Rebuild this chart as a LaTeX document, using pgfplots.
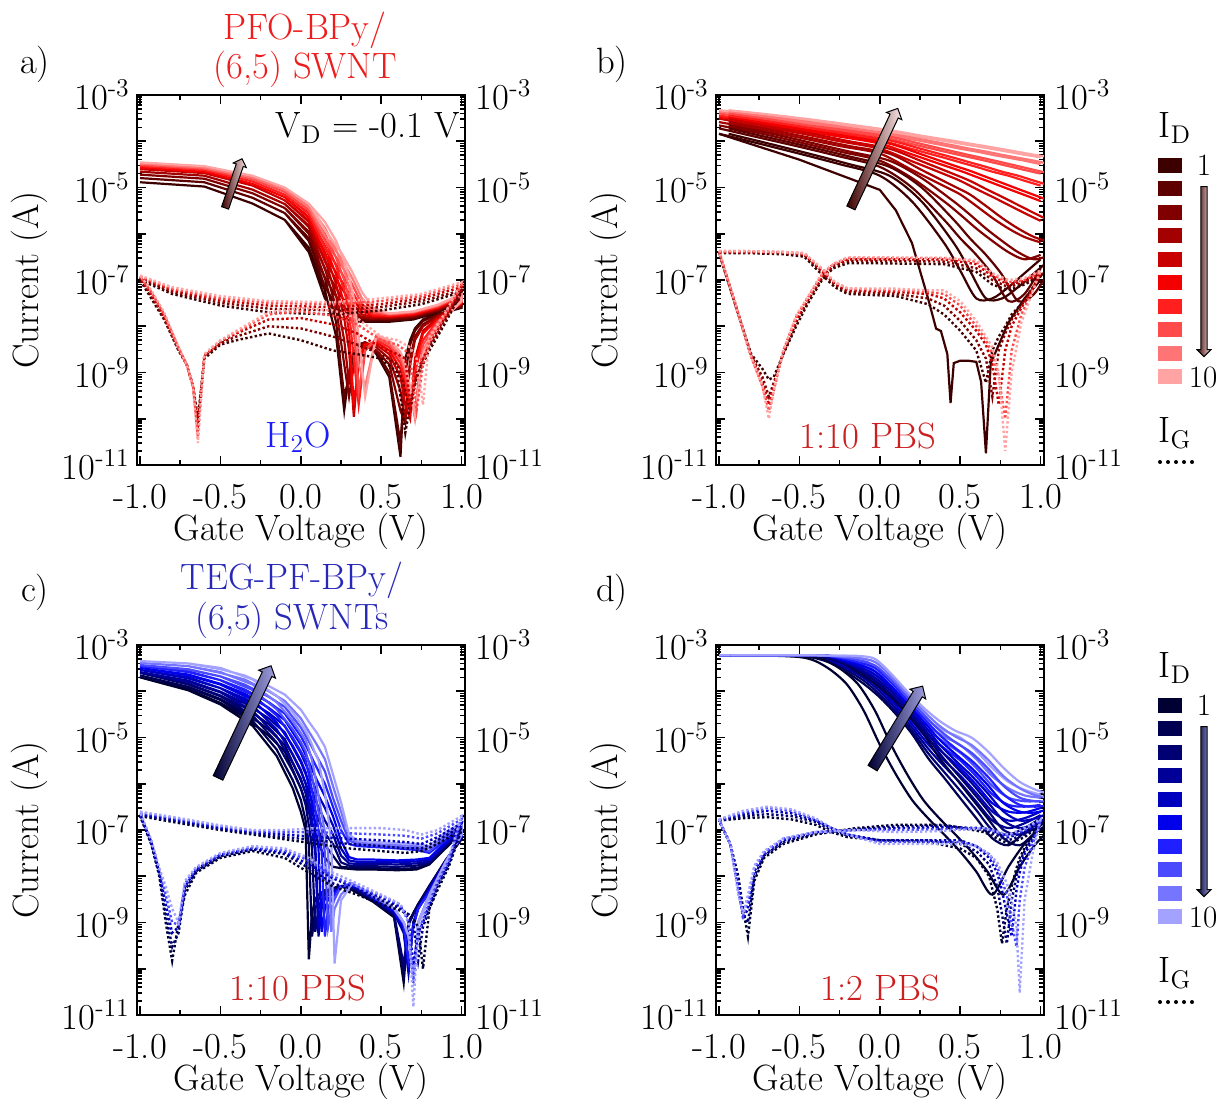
\documentclass[border=0pt]{standalone}
\usepackage{fontspec}
\usepackage{pgfplots}
\pgfplotsset{compat=1.18}
\usepackage{pgfplotstable}
\usetikzlibrary{shapes.arrows}

\definecolor{r1}{HTML}{3D0000}\definecolor{r2}{HTML}{5E0000}\definecolor{r3}{HTML}{800000}
\definecolor{r4}{HTML}{A30000}\definecolor{r5}{HTML}{C90000}\definecolor{r6}{HTML}{F50000}
\definecolor{r7}{HTML}{FF1F1F}\definecolor{r8}{HTML}{FF4A4A}\definecolor{r9}{HTML}{FF7575}
\definecolor{r10}{HTML}{FFA3A3}
\definecolor{b1}{HTML}{000033}\definecolor{b2}{HTML}{000052}\definecolor{b3}{HTML}{000073}
\definecolor{b4}{HTML}{000099}\definecolor{b5}{HTML}{0000BF}\definecolor{b6}{HTML}{0000EB}
\definecolor{b7}{HTML}{1F1FFF}\definecolor{b8}{HTML}{4A4AFF}\definecolor{b9}{HTML}{7575FF}
\definecolor{b10}{HTML}{A3A3FF}
\colorlet{rg1}{r1}\colorlet{rg2}{r3}\colorlet{rg3}{r5}\colorlet{rg4}{r8}\colorlet{rg5}{r10}
\colorlet{bg1}{b1}\colorlet{bg2}{b3}\colorlet{bg3}{b5}\colorlet{bg4}{b8}\colorlet{bg5}{b10}
\definecolor{pinkend}{HTML}{FAE6E6}
\definecolor{blueend}{HTML}{A0A0E0}
\definecolor{titlered}{HTML}{EE1C1C}
\definecolor{pbsred}{HTML}{CC1F1F}
\definecolor{htwoo}{HTML}{1A1AFF}
\definecolor{titleblue}{HTML}{2828B8}

\pgfplotstableread{
V c1 c2 c3 c4 c5 c6 c7 c8 c9 c10
-1.0 1.3e-5 1.6e-5 1.9e-5 2.2e-5 2.5e-5 2.7e-5 2.9e-5 3.1e-5 3.3e-5 3.5e-5
-0.6 1.05e-5 1.3e-5 1.55e-5 1.8e-5 2.05e-5 2.2e-5 2.4e-5 2.55e-5 2.7e-5 2.9e-5
-0.3 4.5e-6 6e-6 7.5e-6 9e-6 1.1e-5 1.2e-5 1.35e-5 1.5e-5 1.65e-5 1.8e-5
-0.1 2e-6 2.8e-6 3.6e-6 4.4e-6 5.3e-6 6.2e-6 7e-6 8e-6 9e-6 1e-5
0.05 5e-7 8e-7 1.1e-6 1.5e-6 1.9e-6 2.3e-6 2.8e-6 3.3e-6 3.9e-6 4.5e-6
0.15 6e-8 1.1e-7 1.8e-7 2.8e-7 4e-7 5.5e-7 7.5e-7 1e-6 1.35e-6 1.8e-6
0.22 6e-9 1.2e-8 2.5e-8 4.5e-8 8e-8 1.3e-7 2e-7 3e-7 4.5e-7 7e-7
0.27 1.5e-10 3e-10 1.5e-9 5e-9 1.5e-8 3e-8 6e-8 1e-7 1.6e-7 2.5e-7
0.30 1e-9 8e-10 3e-10 6e-10 3e-9 8e-9 2e-8 4e-8 7e-8 1.2e-7
0.33 3e-9 2.5e-9 1.5e-9 1.2e-9 1.1e-10 2e-10 2e-9 8e-9 2e-8 4e-8
0.36 4e-9 4e-9 3e-9 3e-9 2e-9 1.5e-9 2e-10 4e-10 1.5e-9 6e-9
0.40 4.5e-9 4.5e-9 4e-9 4.5e-9 4e-9 4e-9 3e-9 3e-9 5e-10 3e-10
0.47 2.5e-9 2.8e-9 3e-9 3.5e-9 4e-9 4.5e-9 5e-9 5.5e-9 6e-9 6.5e-9
0.55 8e-10 1e-9 1.5e-9 2e-9 2.5e-9 3e-9 3.5e-9 4e-9 4.5e-9 5e-9
0.62 1.5e-11 3e-11 1.5e-10 4e-10 8e-10 1.2e-9 1.6e-9 2e-9 2.4e-9 2.8e-9
0.65 2e-9 1e-9 8e-11 1e-10 2e-10 4e-10 7e-10 1e-9 1.2e-9 1.5e-9
0.68 5e-9 4e-9 2e-9 1.5e-9 1e-10 1.5e-10 2e-10 3e-10 4e-10 5e-10
0.71 9e-9 8e-9 6e-9 5e-9 2e-9 1.5e-9 1e-9 1.5e-10 1e-10 1.2e-10
0.76 1.4e-8 1.3e-8 1.1e-8 1e-8 8e-9 7e-9 5e-9 4e-9 3e-9 2.5e-9
0.85 1.8e-8 1.8e-8 1.7e-8 1.6e-8 1.5e-8 1.4e-8 1.3e-8 1.2e-8 1.1e-8 1e-8
1.0 2.5e-8 2.7e-8 2.8e-8 3e-8 3.1e-8 3.2e-8 3.3e-8 3.4e-8 3.5e-8 3.6e-8
1.0 3.5e-8 3.7e-8 3.9e-8 4.1e-8 4.3e-8 4.5e-8 4.6e-8 4.7e-8 4.8e-8 5e-8
0.85 2e-8 2.1e-8 2.2e-8 2.3e-8 2.4e-8 2.5e-8 2.6e-8 2.7e-8 2.8e-8 2.9e-8
0.7 1.4e-8 1.5e-8 1.6e-8 1.7e-8 1.75e-8 1.8e-8 1.9e-8 2e-8 2.05e-8 2.1e-8
0.55 1.25e-8 1.35e-8 1.45e-8 1.5e-8 1.6e-8 1.65e-8 1.7e-8 1.8e-8 1.85e-8 1.9e-8
0.45 1.25e-8 1.35e-8 1.45e-8 1.5e-8 1.6e-8 1.7e-8 1.8e-8 2e-8 2.2e-8 2.5e-8
0.38 1.25e-8 1.35e-8 1.5e-8 1.6e-8 1.8e-8 2.1e-8 2.5e-8 3e-8 4e-8 5.5e-8
0.32 1.3e-8 1.5e-8 1.8e-8 2.2e-8 3e-8 4e-8 5.5e-8 8e-8 1.1e-7 1.5e-7
0.25 1.5e-8 2e-8 3e-8 4.5e-8 7e-8 1e-7 1.5e-7 2.2e-7 3e-7 4e-7
0.15 4e-8 7e-8 1.1e-7 1.7e-7 2.5e-7 3.5e-7 5e-7 7e-7 9e-7 1.2e-6
0.05 4e-7 7e-7 1e-6 1.4e-6 1.8e-6 2.2e-6 2.7e-6 3.2e-6 3.8e-6 4.5e-6
-0.1 2e-6 2.8e-6 3.6e-6 4.4e-6 5.3e-6 6.2e-6 7e-6 8e-6 9e-6 1e-5
-0.3 4.5e-6 6e-6 7.5e-6 9e-6 1.1e-5 1.2e-5 1.35e-5 1.5e-5 1.65e-5 1.8e-5
-0.6 1.05e-5 1.3e-5 1.55e-5 1.8e-5 2.05e-5 2.2e-5 2.4e-5 2.55e-5 2.7e-5 2.9e-5
-1.0 1.3e-5 1.6e-5 1.9e-5 2.2e-5 2.5e-5 2.7e-5 2.9e-5 3.1e-5 3.3e-5 3.5e-5
}\tabAD

\pgfplotstableread{
V g1 g2 g3 g4 g5
-1.0 1e-7 1.1e-7 1.15e-7 1.2e-7 1.25e-7
-0.8 5e-8 5.5e-8 6e-8 6.5e-8 7e-8
-0.5 2.8e-8 3.2e-8 3.6e-8 4e-8 4.5e-8
-0.2 2e-8 2.4e-8 2.8e-8 3.2e-8 3.5e-8
0.2 1.8e-8 2.2e-8 2.6e-8 3e-8 3.3e-8
0.5 2.2e-8 2.6e-8 3e-8 3.5e-8 4e-8
0.75 3e-8 3.5e-8 4e-8 4.5e-8 5e-8
1.0 5.5e-8 6e-8 7e-8 8e-8 9e-8
0.9 1.2e-8 1.4e-8 1.6e-8 1.8e-8 2e-8
0.8 3e-9 3.5e-9 4e-9 5e-9 6e-9
0.76 1.5e-9 1.8e-9 2e-9 1.5e-9 2e-10
0.72 8e-10 8e-10 1e-9 1.5e-10 2e-9
0.68 2e-10 1.5e-10 2e-10 2e-9 3.5e-9
0.65 5e-11 4e-10 2e-9 3e-9 4e-9
0.6 1e-9 1.5e-9 2.5e-9 4e-9 5e-9
0.5 2e-9 2.5e-9 3.5e-9 5e-9 6e-9
0.35 2.5e-9 4e-9 7e-9 1.1e-8 1.5e-8
0.2 3e-9 6e-9 1.1e-8 1.7e-8 2.2e-8
0.0 5e-9 9e-9 1.5e-8 2.1e-8 2.5e-8
-0.2 7e-9 1e-8 1.4e-8 1.8e-8 2e-8
-0.4 5e-9 6e-9 7e-9 7.5e-9 8e-9
-0.5 4e-9 4.3e-9 4.6e-9 4.8e-9 5e-9
-0.6 2e-9 2.2e-9 2.3e-9 2.4e-9 2.5e-9
-0.64 1e-10 8e-11 6e-11 4e-11 3e-11
-0.67 5e-10 5e-10 5e-10 5e-10 5e-10
-0.71 1.5e-9 1.5e-9 1.5e-9 1.5e-9 1.5e-9
-0.76 3e-9 3e-9 3.2e-9 3.4e-9 3.5e-9
-0.85 1.4e-8 1.5e-8 1.6e-8 1.8e-8 2e-8
-0.93 4e-8 4.5e-8 5e-8 5.5e-8 6e-8
-1.0 1e-7 1.1e-7 1.15e-7 1.2e-7 1.25e-7
}\tabAG

\pgfplotstableread{
V V2 c1 c2 c3 c4 c5 c6 c7 c8 c9 c10
-1.0 -0.94 1.45e-4 1.9e-4 2.2e-4 2.6e-4 3.1e-4 3.4e-4 3.6e-4 4e-4 4.4e-4 4.7e-4
-0.75 -0.69 8.9e-5 1.2e-4 1.5e-4 1.8e-4 2.1e-4 2.4e-4 2.7e-4 3e-4 3.4e-4 3.8e-4
-0.5 -0.44 5.4e-5 7.6e-5 9.5e-5 1.2e-4 1.5e-4 1.74e-4 1.95e-4 2.2e-4 2.6e-4 3e-4
-0.25 -0.19 3.2e-5 4.7e-5 6e-5 7.9e-5 1e-4 1.26e-4 1.45e-4 1.7e-4 1.95e-4 2.3e-4
0.0 0.06 1.8e-5 2.8e-5 3.8e-5 5.4e-5 6.9e-5 8.9e-5 1.05e-4 1.26e-4 1.45e-4 1.74e-4
0.2 0.26 5e-6 1e-5 1.6e-5 2.4e-5 3.7e-5 5.2e-5 6.8e-5 8.7e-5 1.1e-4 1.32e-4
0.4 0.46 6.3e-7 2e-6 5e-6 1.07e-5 1.95e-5 3e-5 4.4e-5 6e-5 8.1e-5 1.02e-4
0.5 0.56 1.6e-7 8e-7 2.6e-6 7.1e-6 1.4e-5 2.3e-5 3.5e-5 5e-5 6.9e-5 8.9e-5
0.6 0.66 4e-8 3.5e-7 1.3e-6 4e-6 9.3e-6 1.7e-5 2.8e-5 4.2e-5 6e-5 7.8e-5
0.7 0.76 4e-8 1.3e-7 7e-7 2.2e-6 6.3e-6 1.26e-5 2.2e-5 3.5e-5 5.1e-5 6.8e-5
0.8 0.86 7e-8 3.5e-8 4e-7 1.3e-6 4.2e-6 9.3e-6 1.8e-5 2.9e-5 4.4e-5 5.9e-5
0.9 0.96 1.4e-7 5e-8 2.8e-7 8.5e-7 2.8e-6 6.9e-6 1.4e-5 2.4e-5 3.8e-5 5.1e-5
1.0 1.06 2.8e-7 1.8e-7 3.5e-7 6.5e-7 1.9e-6 5.1e-6 1.1e-5 2e-5 3.2e-5 4.5e-5
}\tabBD

\pgfplotstableread{
V g1 g2 g3 g4 g5
-1.0 3.8e-7 4e-7 4e-7 4.2e-7 4.2e-7
-0.8 3.8e-7 4e-7 4e-7 4.2e-7 4.2e-7
-0.6 3.6e-7 3.8e-7 4e-7 4e-7 4e-7
-0.47 3.2e-7 3.5e-7 3.6e-7 3.8e-7 3.8e-7
-0.36 1.3e-7 1.5e-7 1.6e-7 1.7e-7 1.8e-7
-0.28 7e-8 8e-8 8.5e-8 9e-8 9e-8
-0.2 5e-8 5.5e-8 6e-8 6.5e-8 6.6e-8
0.1 4.5e-8 5e-8 5.5e-8 6e-8 6.5e-8
0.3 3e-8 4e-8 5e-8 5.5e-8 6e-8
0.4 1.8e-8 2.8e-8 4e-8 5e-8 6e-8
0.5 8e-9 1.3e-8 2e-8 2.8e-8 3.5e-8
0.6 3e-9 5e-9 8e-9 1e-8 1.3e-8
0.66 6e-10 2e-9 4e-9 5e-9 6e-9
0.7 3e-9 3e-10 1.5e-9 2.5e-9 3.5e-9
0.74 6e-9 3e-9 2e-10 8e-10 1e-9
0.78 1e-8 7e-9 3e-9 1e-10 2e-11
0.82 1.8e-8 1.4e-8 1e-8 3e-9 1e-9
0.88 3e-8 2.8e-8 2.5e-8 1.8e-8 1.2e-8
0.94 6e-8 6e-8 5.5e-8 5e-8 4.5e-8
1.0 1.2e-7 1.3e-7 1.4e-7 1.5e-7 1.6e-7
0.9 8e-8 9e-8 9.5e-8 1e-7 1.1e-7
0.8 6e-8 7e-8 8e-8 9e-8 1e-7
0.7 8e-8 1e-7 1.2e-7 1.3e-7 1.4e-7
0.6 1.5e-7 1.8e-7 2.2e-7 2.5e-7 2.7e-7
0.4 2.2e-7 2.5e-7 2.8e-7 3e-7 3e-7
0.0 2.3e-7 2.6e-7 2.8e-7 3e-7 3.1e-7
-0.2 2.3e-7 2.6e-7 2.8e-7 3e-7 3.1e-7
-0.29 1.8e-7 2e-7 2.1e-7 2.2e-7 2.2e-7
-0.36 1e-7 1.1e-7 1.2e-7 1.3e-7 1.4e-7
-0.45 3e-8 3.5e-8 3.8e-8 4e-8 4.2e-8
-0.52 1e-8 1.2e-8 1.4e-8 1.6e-8 1.7e-8
-0.6 2.5e-9 2.6e-9 2.8e-9 3e-9 3e-9
-0.66 8e-10 6e-10 5e-10 4e-10 4e-10
-0.69 7e-10 3e-10 2e-10 1.5e-10 1e-10
-0.73 1.2e-9 8e-10 6e-10 5e-10 5e-10
-0.8 2.5e-9 2.3e-9 2.2e-9 2.2e-9 2.2e-9
-0.9 3e-8 3e-8 3.2e-8 3.2e-8 3.2e-8
-1.0 3.8e-7 4e-7 4e-7 4.2e-7 4.2e-7
}\tabBG

\pgfplotstableread{
V c1 c2 c3 c4 c5 c6 c7 c8 c9 c10
-1.0 2e-4 2.2e-4 2.5e-4 2.6e-4 2.9e-4 3.2e-4 3.5e-4 3.7e-4 4.1e-4 4.5e-4
-0.7 1.05e-4 1.2e-4 1.4e-4 1.6e-4 1.9e-4 2.2e-4 2.6e-4 2.95e-4 3.5e-4 4e-4
-0.5 5.2e-5 6.5e-5 7.8e-5 9.5e-5 1.17e-4 1.4e-4 1.74e-4 2.1e-4 2.6e-4 3.2e-4
-0.3 1.8e-5 2.3e-5 3e-5 3.8e-5 4.9e-5 6.5e-5 8.3e-5 1.07e-4 1.4e-4 1.8e-4
-0.15 4e-6 5.5e-6 7.8e-6 1.07e-5 1.5e-5 2.1e-5 3e-5 4.1e-5 5.8e-5 8e-5
-0.05 8e-7 1.2e-6 1.86e-6 2.8e-6 4.3e-6 6.6e-6 1e-5 1.5e-5 2.3e-5 3.5e-5
0.0 2.5e-7 4.5e-7 8e-7 1.3e-6 2e-6 3.2e-6 5e-6 8e-6 1.26e-5 2e-5
0.03 1e-7 1.6e-7 3.5e-7 6.3e-7 1e-6 1.8e-6 3.2e-6 5e-6 8.9e-6 1.4e-5
0.05 1.6e-10 5e-8 1.26e-7 2.8e-7 4.5e-7 9e-7 1.6e-6 2.8e-6 5.6e-6 1e-5
0.07 1.6e-9 5e-10 4e-8 1e-7 1.6e-7 3.5e-7 7e-7 1.4e-6 3.2e-6 7e-6
0.09 3.2e-9 2e-9 6.3e-10 3.2e-8 5e-8 1.26e-7 2.8e-7 6.3e-7 1.4e-6 4.5e-6
0.11 4e-9 3.2e-9 2e-9 5e-10 1e-9 4e-8 1e-7 2.5e-7 5.6e-7 3.2e-6
0.13 4.5e-9 4e-9 3.2e-9 2e-9 2.5e-9 6.3e-10 3.5e-8 1e-7 2.2e-7 1.4e-6
0.15 5e-9 4.5e-9 4e-9 3.2e-9 3.5e-9 2e-9 5e-10 3.2e-8 9e-8 6.3e-7
0.17 5e-9 5e-9 4.5e-9 4e-9 4e-9 3.2e-9 2e-9 8e-10 3.2e-8 2e-7
0.19 5.6e-9 5.6e-9 5e-9 4.5e-9 4.5e-9 4e-9 3.2e-9 2e-9 6.3e-10 5e-8
0.21 5.6e-9 5.6e-9 5.6e-9 5e-9 5e-9 4.5e-9 4e-9 3.2e-9 2e-9 1.3e-10
0.25 6e-9 6e-9 6e-9 6e-9 6e-9 6e-9 6e-9 6e-9 4e-9 3e-9
0.32 5e-9 5.5e-9 6e-9 6e-9 6.5e-9 6.5e-9 7e-9 7e-9 7e-9 7e-9
0.45 2.8e-9 3e-9 3.1e-9 3.2e-9 3.3e-9 3.4e-9 3.5e-9 3.6e-9 3.8e-9 4e-9
0.58 1.3e-9 1.4e-9 1.5e-9 1.6e-9 1.7e-9 1.8e-9 1.9e-9 2e-9 2e-9 2e-9
0.64 5e-11 8e-11 1.2e-10 6e-10 7e-10 8e-10 9e-10 1e-9 1e-9 1e-9
0.67 1e-9 1e-9 9e-10 8e-11 1e-10 1.3e-10 1.5e-10 5e-10 5e-10 5e-10
0.70 1.6e-9 1.6e-9 1.5e-9 1e-9 1e-9 9e-10 8e-10 7e-11 6e-11 6.3e-11
0.73 2.5e-9 2.5e-9 2.3e-9 2e-9 2e-9 2e-9 2e-9 1e-9 1e-9 1e-9
0.8 6.3e-9 6e-9 6e-9 5.5e-9 5e-9 5e-9 4.5e-9 4e-9 4e-9 4e-9
0.9 2.2e-8 2.2e-8 2.1e-8 2.1e-8 2.1e-8 2e-8 2e-8 2e-8 2e-8 2e-8
1.0 6.3e-8 6.5e-8 6.8e-8 7e-8 7.2e-8 7.4e-8 7.6e-8 7.8e-8 8e-8 8e-8
1.0 8.9e-8 9e-8 1e-7 1e-7 1.1e-7 1.1e-7 1.26e-7 1.3e-7 1.4e-7 1.4e-7
0.9 4e-8 4.2e-8 4.5e-8 4.8e-8 5e-8 5.5e-8 6e-8 7e-8 8e-8 9e-8
0.8 1.8e-8 1.9e-8 2e-8 2.1e-8 2.3e-8 2.5e-8 3.2e-8 3.5e-8 4e-8 4.5e-8
0.72 1.4e-8 1.5e-8 1.7e-8 1.9e-8 2.1e-8 2.3e-8 3.7e-8 4e-8 4.5e-8 5e-8
0.6 1.35e-8 1.45e-8 1.6e-8 1.8e-8 2e-8 2.2e-8 4e-8 4.3e-8 4.7e-8 5.2e-8
0.45 1.4e-8 1.5e-8 1.65e-8 1.85e-8 2.05e-8 2.3e-8 4.3e-8 4.6e-8 5e-8 5.5e-8
0.35 1.4e-8 1.5e-8 1.65e-8 1.85e-8 2.05e-8 2.3e-8 4.5e-8 5e-8 5.5e-8 6e-8
0.3 1.45e-8 1.55e-8 1.7e-8 1.9e-8 2.2e-8 2.6e-8 5e-8 6e-8 7e-8 8e-8
0.25 1.5e-8 1.6e-8 2e-8 2.8e-8 4e-8 6e-8 1e-7 1.6e-7 2.5e-7 4e-7
0.2 1.6e-8 2.8e-8 5e-8 8e-8 1.26e-7 2e-7 3.2e-7 5e-7 9e-7 1.6e-6
0.15 2.5e-8 4.7e-8 8.5e-8 1.6e-7 3e-7 5.4e-7 1e-6 1.86e-6 3.4e-6 6.3e-6
0.1 6.3e-8 1.15e-7 2e-7 3.7e-7 6.6e-7 1.2e-6 2.2e-6 3.9e-6 7e-6 1.26e-5
0.05 2.5e-7 4.2e-7 6.8e-7 1.1e-6 1.86e-6 3e-6 5e-6 8.3e-6 1.35e-5 2.2e-5
0.0 8e-7 1.2e-6 1.9e-6 2.95e-6 4.6e-6 7e-6 1.07e-5 1.66e-5 2.6e-5 4e-5
-0.1 5e-6 6.9e-6 9.3e-6 1.3e-5 1.8e-5 2.4e-5 3.3e-5 4.6e-5 6.2e-5 8.5e-5
-0.2 1.1e-5 1.5e-5 1.95e-5 2.6e-5 3.4e-5 4.4e-5 5.8e-5 7.6e-5 1e-4 1.3e-4
-0.35 2.8e-5 3.5e-5 4.5e-5 5.6e-5 7e-5 8.9e-5 1.1e-4 1.4e-4 1.8e-4 2.2e-4
-0.5 5.6e-5 6.8e-5 8.1e-5 9.8e-5 1.17e-4 1.45e-4 1.74e-4 2.1e-4 2.5e-4 3e-4
-0.7 1.1e-4 1.25e-4 1.45e-4 1.7e-4 2e-4 2.3e-4 2.7e-4 3e-4 3.5e-4 4e-4
-1.0 2e-4 2.2e-4 2.5e-4 2.6e-4 2.9e-4 3.2e-4 3.5e-4 3.7e-4 4.1e-4 4.5e-4
}\tabCD

\pgfplotstableread{
V g1 g2 g3 g4 g5
-1.0 2e-7 2.1e-7 2.2e-7 2.4e-7 2.5e-7
-0.75 1.4e-7 1.5e-7 1.6e-7 1.7e-7 1.8e-7
-0.5 1e-7 1.05e-7 1.1e-7 1.2e-7 1.26e-7
-0.3 8e-8 8.5e-8 9e-8 9.5e-8 1e-7
-0.1 6.3e-8 7e-8 8e-8 9e-8 1e-7
0.1 5e-8 6e-8 7e-8 9e-8 1.1e-7
0.3 4e-8 5e-8 6.5e-8 8.5e-8 1.1e-7
0.5 3.5e-8 4.5e-8 6e-8 8e-8 1.1e-7
0.65 3.2e-8 4e-8 5.5e-8 7.5e-8 1e-7
0.75 3.5e-8 4e-8 5e-8 6.5e-8 8e-8
0.85 5e-8 6e-8 7e-8 8.5e-8 1e-7
1.0 1e-7 1.2e-7 1.4e-7 1.7e-7 2e-7
0.92 1.6e-8 1.8e-8 2e-8 2.2e-8 2.5e-8
0.85 5e-9 6e-9 7e-9 7.5e-9 8e-9
0.8 2e-9 2e-9 2.5e-9 2.8e-9 3e-9
0.76 1e-10 8e-10 1e-9 1.2e-9 1.5e-9
0.73 8e-10 1.5e-10 6e-10 5e-10 8e-10
0.7 1.2e-9 1e-9 1.2e-10 5e-11 1.5e-11
0.67 1.5e-9 1.5e-9 1.2e-9 1e-9 1e-9
0.62 1.8e-9 2e-9 2.2e-9 2.4e-9 2.5e-9
0.5 2.5e-9 3e-9 3.5e-9 3.8e-9 4e-9
0.35 4e-9 5e-9 5.5e-9 6e-9 7e-9
0.2 6e-9 7e-9 9e-9 1e-8 1.2e-8
0.05 1.2e-8 1.5e-8 1.8e-8 2.2e-8 2.5e-8
-0.1 2.5e-8 3e-8 3.3e-8 3.6e-8 4e-8
-0.3 3.5e-8 3.8e-8 4e-8 4.2e-8 4.5e-8
-0.5 2.5e-8 2.7e-8 2.9e-8 3e-8 3.2e-8
-0.65 1.2e-8 1.3e-8 1.4e-8 1.5e-8 1.6e-8
-0.72 4e-9 5e-9 6e-9 7e-9 8e-9
-0.76 1e-9 6e-10 8e-10 9e-10 1e-9
-0.8 1.5e-10 3e-10 6e-10 1e-9 2e-9
-0.84 1e-9 1.5e-9 2.5e-9 4e-9 6e-9
-0.88 1e-8 1.1e-8 1.2e-8 1.4e-8 1.5e-8
-0.93 5e-8 5e-8 5.5e-8 5.8e-8 6e-8
-1.0 2e-7 2.1e-7 2.2e-7 2.4e-7 2.5e-7
}\tabCG

\pgfplotstableread{
V V2 c1 c2 c3 c4 c5 c6 c7 c8 c9 c10
-1.0 -0.93 6e-4 6e-4 6e-4 6e-4 6e-4 6e-4 6e-4 6e-4 6e-4 6e-4
-0.7 -0.63 5.9e-4 6e-4 6e-4 6e-4 6e-4 6e-4 6e-4 6e-4 6e-4 6e-4
-0.5 -0.43 5.5e-4 5.8e-4 6e-4 6e-4 6e-4 6e-4 6e-4 6e-4 6e-4 6e-4
-0.4 -0.33 4.5e-4 5.2e-4 5.5e-4 5.6e-4 5.9e-4 5.9e-4 5.9e-4 5.9e-4 5.9e-4 5.9e-4
-0.3 -0.23 2.8e-4 4e-4 4.2e-4 4.4e-4 4.6e-4 4.8e-4 5.1e-4 5.4e-4 5.6e-4 5.9e-4
-0.2 -0.13 1.35e-4 2.5e-4 2.8e-4 3.1e-4 3.4e-4 3.8e-4 4.2e-4 4.7e-4 5.2e-4 5.8e-4
-0.1 -0.03 3.8e-5 1.45e-4 1.7e-4 1.95e-4 2.3e-4 2.7e-4 3.2e-4 3.6e-4 4.3e-4 5e-4
0.0 0.07 7e-6 7.4e-5 8.5e-5 1e-4 1.15e-4 1.3e-4 1.55e-4 1.8e-4 2.1e-4 2.4e-4
0.1 0.17 1.6e-6 3.2e-5 3.6e-5 4.2e-5 4.9e-5 5.6e-5 6.5e-5 7.5e-5 8.7e-5 1e-4
0.2 0.27 4.5e-7 1.2e-5 1.4e-5 1.65e-5 1.95e-5 2.3e-5 2.7e-5 3.2e-5 3.8e-5 4.5e-5
0.3 0.37 1.8e-7 3.6e-6 4.6e-6 5.8e-6 7.2e-6 9.1e-6 1.15e-5 1.45e-5 1.8e-5 2.3e-5
0.4 0.47 8e-8 1.35e-6 1.8e-6 2.4e-6 3.2e-6 4.4e-6 5.9e-6 7.9e-6 1.05e-5 1.4e-5
0.5 0.57 3.4e-8 4.9e-7 7.1e-7 1.05e-6 1.5e-6 2.2e-6 3.2e-6 4.7e-6 6.9e-6 1e-5
0.6 0.67 1.26e-8 1.8e-7 2.7e-7 4.1e-7 6.3e-7 9.5e-7 1.45e-6 2.2e-6 3.4e-6 5.1e-6
0.7 0.77 4e-9 6.6e-8 1e-7 1.6e-7 2.5e-7 3.8e-7 5.9e-7 9e-7 1.45e-6 2.2e-6
0.8 0.87 1.6e-8 4.7e-8 8e-8 1.1e-7 1.6e-7 2.5e-7 3.5e-7 5e-7 8e-7 1.1e-6
0.9 0.97 5e-8 9e-8 1.1e-7 1.4e-7 1.8e-7 2.4e-7 3.2e-7 4.2e-7 5.6e-7 7.4e-7
1.0 1.07 1.1e-7 1.5e-7 1.8e-7 2.1e-7 2.5e-7 3e-7 3.5e-7 4.2e-7 5e-7 5.8e-7
}\tabDD

\pgfplotstableread{
V g1 g2 g3 g4 g5
-1.0 1.6e-7 1.6e-7 1.65e-7 1.65e-7 1.7e-7
-0.85 1.8e-7 2e-7 2.2e-7 2.4e-7 2.6e-7
-0.7 1.9e-7 2.2e-7 2.6e-7 3e-7 3.2e-7
-0.55 1.7e-7 2e-7 2.3e-7 2.6e-7 2.8e-7
-0.4 1.3e-7 1.5e-7 1.6e-7 1.7e-7 1.8e-7
-0.3 9e-8 1e-7 1.1e-7 1.1e-7 1.1e-7
-0.2 7e-8 7.5e-8 8e-8 8e-8 8e-8
0.0 6e-8 6e-8 6e-8 5.5e-8 5e-8
0.3 5.5e-8 6e-8 6e-8 5.5e-8 5e-8
0.5 4e-8 5e-8 6e-8 5.5e-8 5e-8
0.6 2.5e-8 3.5e-8 4.5e-8 4.5e-8 4.5e-8
0.68 1e-8 1.8e-8 2.5e-8 3e-8 3e-8
0.73 2e-9 6e-9 1.2e-8 1.6e-8 2e-8
0.76 3.5e-10 1.5e-9 5e-9 8e-9 1.2e-8
0.79 2e-9 3.5e-10 1.5e-9 4e-9 7e-9
0.82 6e-9 3e-9 5e-10 1e-9 3e-9
0.85 1.5e-8 1e-8 5e-9 3e-10 8e-10
0.87 2.5e-8 2e-8 1.2e-8 3e-9 3e-11
0.9 4e-8 3.5e-8 3e-8 1.5e-8 3e-9
0.95 8e-8 7e-8 6e-8 5e-8 3e-8
1.0 1.3e-7 1.4e-7 1.5e-7 1.6e-7 1.7e-7
0.9 7e-8 8e-8 9e-8 1e-7 1.1e-7
0.8 5e-8 6e-8 7e-8 7.5e-8 8e-8
0.65 9e-8 1e-7 1.1e-7 1.1e-7 1.1e-7
0.4 1.3e-7 1.25e-7 1.15e-7 1.05e-7 9.5e-8
0.1 1.3e-7 1.2e-7 1.1e-7 1e-7 9e-8
-0.15 1.1e-7 1.05e-7 1e-7 1e-7 1e-7
-0.4 8e-8 8.5e-8 9e-8 9e-8 9e-8
-0.6 5e-8 5.5e-8 6e-8 6.5e-8 6.6e-8
-0.72 2.5e-8 2.8e-8 3e-8 3.2e-8 3.5e-8
-0.78 8e-9 1e-8 1.3e-8 1.5e-8 1.7e-8
-0.82 5e-10 1e-9 2e-9 3e-9 4e-9
-0.85 2e-9 1.5e-9 1.2e-9 1.4e-9 1.5e-9
-0.88 1e-8 8e-9 6e-9 5e-9 4e-9
-0.93 5e-8 5e-8 5e-8 5e-8 5e-8
-1.0 1.6e-7 1.6e-7 1.65e-7 1.65e-7 1.7e-7
}\tabDG

\newcommand{\fs}{\fontsize{18.3}{22}\selectfont}
\newcommand{\fsl}{\fontsize{15.5}{18}\selectfont}

\pgfplotsset{
  panel/.style={
    scale only axis, width=164pt, height=185pt,
    xmin=-1.02, xmax=1.02, ymin=1e-11, ymax=1e-3,
    xtick={-1,-0.5,0,0.5,1}, xticklabels={-1.0,-0.5,0.0,0.5,1.0},
    minor xtick={-0.75,-0.25,0.25,0.75},
    ytick={1e-11,1e-10,1e-9,1e-8,1e-7,1e-6,1e-5,1e-4,1e-3},
    yticklabels={10\textsuperscript{-11},,10\textsuperscript{-9},,10\textsuperscript{-7},,10\textsuperscript{-5},,10\textsuperscript{-3}},
    minor ytick={2e-11,3e-11,4e-11,5e-11,6e-11,7e-11,8e-11,9e-11,2e-10,3e-10,4e-10,5e-10,6e-10,7e-10,8e-10,9e-10,2e-9,3e-9,4e-9,5e-9,6e-9,7e-9,8e-9,9e-9,2e-8,3e-8,4e-8,5e-8,6e-8,7e-8,8e-8,9e-8,2e-7,3e-7,4e-7,5e-7,6e-7,7e-7,8e-7,9e-7,2e-6,3e-6,4e-6,5e-6,6e-6,7e-6,8e-6,9e-6,2e-5,3e-5,4e-5,5e-5,6e-5,7e-5,8e-5,9e-5,2e-4,3e-4,4e-4,5e-4,6e-4,7e-4,8e-4,9e-4},
    tick align=inside, major tick length=4.5pt, minor tick length=2.5pt,
    tick style={line width=0.8pt, black},
    axis line style={line width=1.2pt},
    tick label style={font=\fs, inner ysep=0.5pt},
    xticklabel style={yshift=-9pt},
    label style={font=\fs},
    xlabel style={yshift=2pt},
    xlabel={Gate Voltage (V)}, ylabel={Current (A)},
    clip mode=individual,
  },
  drainline/.style={line width=1.1pt, mark=none, solid},
  gateline/.style={line width=1.2pt, mark=none, dash pattern=on 1.2pt off 1.2pt},
}
\tikzset{garrow/.style={single arrow, draw=black, line width=0.5pt, inner xsep=0pt,
  text width=0pt, text height=0pt, text depth=0pt,
  single arrow head indent=0pt, anchor=center}}

\newcommand{\rlabels}{%
\node[anchor=west, font=\fs, inner ysep=0.5pt, xshift=2pt] at (rel axis cs:1,0) {10\textsuperscript{-11}};
\node[anchor=west, font=\fs, inner ysep=0.5pt, xshift=2pt] at (rel axis cs:1,0.25) {10\textsuperscript{-9}};
\node[anchor=west, font=\fs, inner ysep=0.5pt, xshift=2pt] at (rel axis cs:1,0.5) {10\textsuperscript{-7}};
\node[anchor=west, font=\fs, inner ysep=0.5pt, xshift=2pt] at (rel axis cs:1,0.75) {10\textsuperscript{-5}};
\node[anchor=west, font=\fs, inner ysep=0.5pt, xshift=2pt] at (rel axis cs:1,1) {10\textsuperscript{-3}};
}

\newcommand{\legendblock}[3]{%
\begin{scope}[yshift=#2]
\node[font=\fs] at (587.5pt,-64pt) {I\textsubscript{D}};
\foreach \i in {1,...,10}{\pgfmathsetmacro\yy{-78.75-(\i-1)*11.75}\fill[#1\i] (579pt,\yy pt) rectangle ++(12pt,-7.5pt);}
\node[font=\fsl] at (602pt,-82.5pt) {1};
\node[font=\fsl] at (601.5pt,-188.5pt) {10};
\node[garrow, minimum height=85pt, inner ysep=1.3pt, single arrow head extend=1.9pt, rotate=-90, left color=#11, right color=#3] at (602pt,-135pt) {};
\node[font=\fs] at (587.5pt,-216.5pt) {I\textsubscript{G}};
\draw[line width=2pt, line cap=round, dash pattern=on 0pt off 4pt] (580pt,-231pt) -- (598pt,-231pt);
\end{scope}}

\begin{document}
\begin{tikzpicture}
\useasboundingbox (0,0) rectangle (610pt,-550pt);

% ===== panel a =====
\begin{semilogyaxis}[panel, at={(68.4pt,-47.5pt)}, anchor=north west]
\pgfplotsinvokeforeach{1,...,10}{\addplot[drainline, color=r#1] table[x=V,y=c#1]{\tabAD};}
\pgfplotsinvokeforeach{1,...,5}{\addplot[gateline, color=rg#1] table[x=V,y=g#1]{\tabAG};}
\node[garrow, minimum height=26pt, inner ysep=1.6pt, single arrow head extend=1.6pt, rotate=71, left color=r1, right color=pinkend] at (axis cs:-0.422,1.13e-5) {};
\rlabels
\end{semilogyaxis}

% ===== panel b =====
\begin{semilogyaxis}[panel, at={(357.9pt,-47.5pt)}, anchor=north west]
\pgfplotsinvokeforeach{1,...,10}{\addplot[drainline, smooth, tension=0.5, color=r#1] table[x=V,y=c#1]{\tabBD};}
\pgfplotsinvokeforeach{1,...,10}{\addplot[drainline, smooth, tension=0.5, color=r#1] table[x=V2,y=c#1]{\tabBD};}
\addplot[drainline, color=r1] coordinates {(-1,1.45e-4) (-0.5,4e-5) (0,8.9e-6) (0.1,3.2e-6) (0.2,6.3e-7) (0.3,4e-8) (0.35,8.9e-9) (0.38,7.9e-9) (0.42,2.5e-9) (0.44,2.2e-10) (0.46,1.6e-9) (0.5,1.8e-9) (0.55,1.8e-9) (0.6,1.7e-9) (0.63,6.3e-10) (0.66,1.8e-11) (0.69,1.6e-9) (0.8,1.2e-8) (0.9,4e-8) (1.0,1e-7)};
\pgfplotsinvokeforeach{1,...,5}{\addplot[gateline, color=rg#1] table[x=V,y=g#1]{\tabBG};}
\node[garrow, minimum height=55pt, inner ysep=2pt, single arrow head extend=2pt, rotate=64.8, left color=r1, right color=pinkend] at (axis cs:-0.04,3.9e-5) {};
\rlabels
\end{semilogyaxis}

% ===== panel c =====
\begin{semilogyaxis}[panel, at={(68.4pt,-322.5pt)}, anchor=north west]
\pgfplotsinvokeforeach{1,...,10}{\addplot[drainline, color=b#1] table[x=V,y=c#1]{\tabCD};}
\pgfplotsinvokeforeach{1,...,5}{\addplot[gateline, color=bg#1] table[x=V,y=g#1]{\tabCG};}
\node[garrow, minimum height=62pt, inner ysep=2.4pt, single arrow head extend=2pt, rotate=64.7, left color=b1, right color=blueend] at (axis cs:-0.357,1.94e-5) {};
\rlabels
\end{semilogyaxis}

% ===== panel d =====
\begin{semilogyaxis}[panel, at={(357.9pt,-322.5pt)}, anchor=north west]
\pgfplotsinvokeforeach{1,...,10}{\addplot[drainline, smooth, tension=0.5, color=b#1] table[x=V,y=c#1]{\tabDD};}
\pgfplotsinvokeforeach{1,...,10}{\addplot[drainline, smooth, tension=0.5, color=b#1] table[x=V2,y=c#1]{\tabDD};}
\pgfplotsinvokeforeach{1,...,5}{\addplot[gateline, color=bg#1] table[x=V,y=g#1]{\tabDG};}
\node[garrow, minimum height=48pt, inner ysep=2.4pt, single arrow head extend=2pt, rotate=58.6, left color=b1, right color=blueend] at (axis cs:0.102,1.5e-5) {};
\rlabels
\end{semilogyaxis}

% ===== texts =====
\node[font=\fs] at (17.5pt,-32pt) {a)};
\node[font=\fs] at (306pt,-32pt) {b)};
\node[font=\fs] at (17.5pt,-296pt) {c)};
\node[font=\fs] at (306pt,-296pt) {d)};
\node[font=\fs, text=titlered] at (152.5pt,-15pt) {PFO-BPy/};
\node[font=\fs, text=titlered] at (152.5pt,-34.5pt) {(6,5) SWNT};
\node[font=\fs, text=titleblue] at (146pt,-290pt) {TEG-PF-BPy/};
\node[font=\fs, text=titleblue] at (146pt,-310pt) {(6,5) SWNTs};
\node[font=\fs] at (184pt,-64pt) {V\textsubscript{D} = -0.1 V};
\node[font=\fs, text=htwoo] at (149pt,-218.5pt) {H\textsubscript{2}O};
\node[font=\fs, text=pbsred] at (434pt,-218pt) {1:10 PBS};
\node[font=\fs, text=pbsred] at (149pt,-494pt) {1:10 PBS};
\node[font=\fs, text=pbsred] at (440pt,-494pt) {1:2 PBS};

% ===== legends =====
\legendblock{r}{0pt}{pinkend}
\legendblock{b}{-270pt}{blueend}
\end{tikzpicture}
\end{document}
